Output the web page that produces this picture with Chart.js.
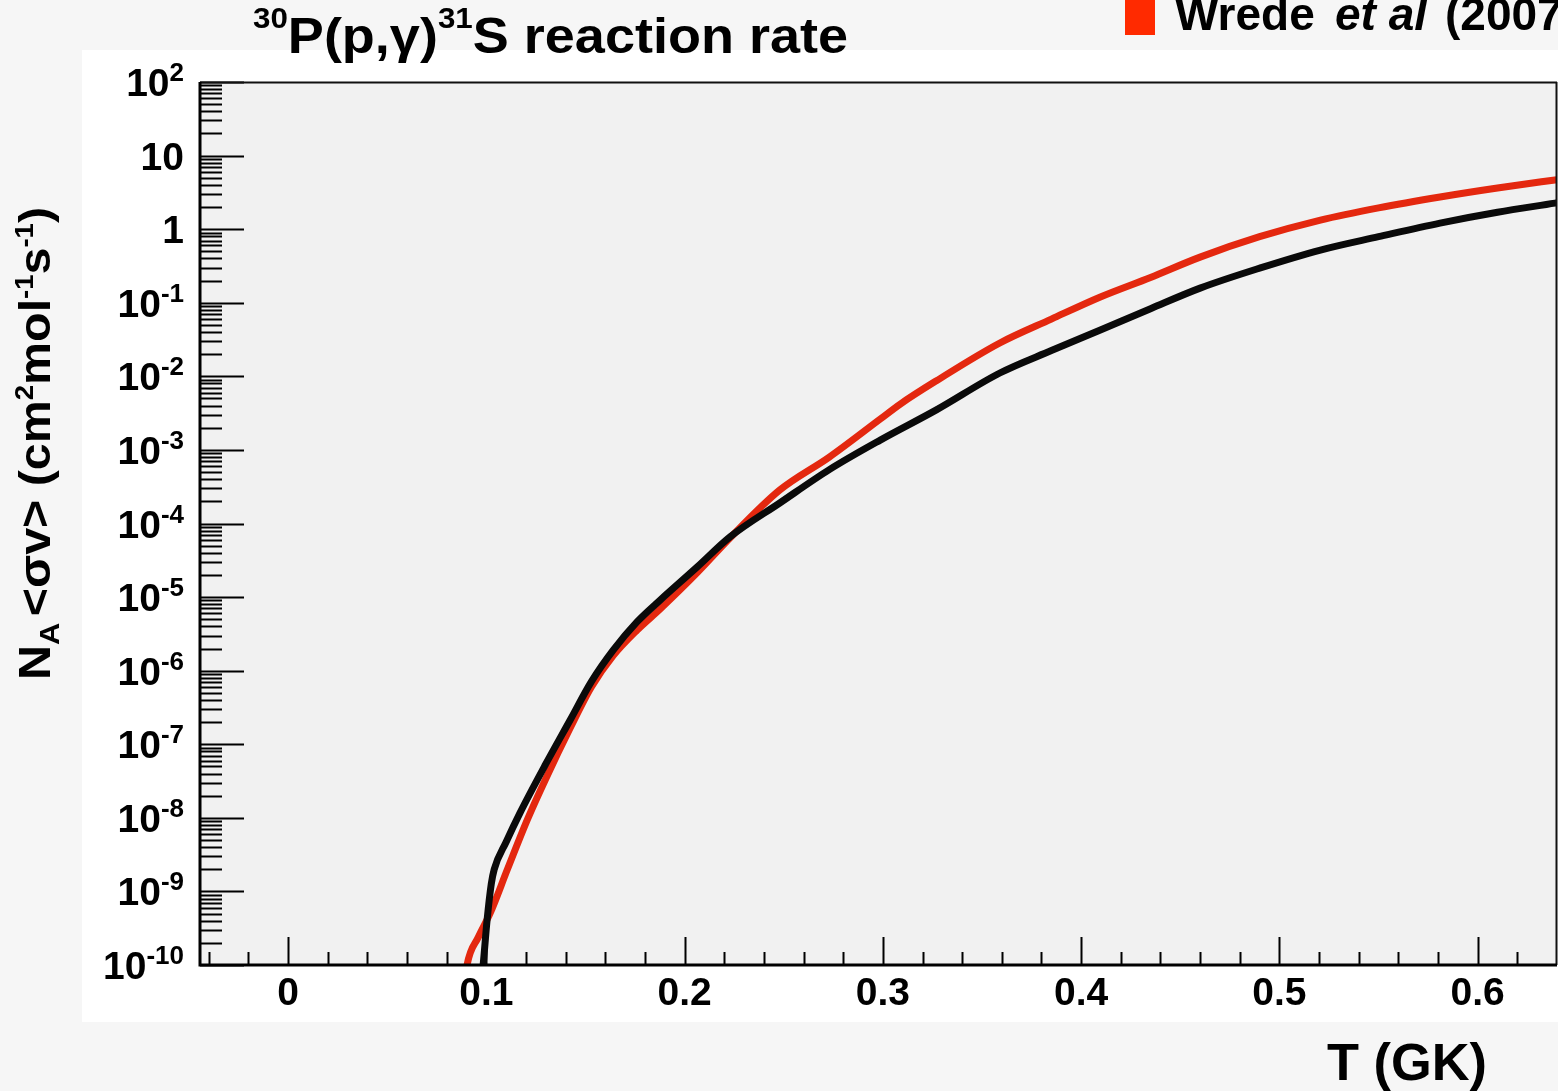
<!DOCTYPE html>
<html>
<head>
<meta charset="utf-8">
<title>30P(p,γ)31S reaction rate</title>
<script src="https://cdn.jsdelivr.net/npm/chart.js@4.4.1/dist/chart.umd.min.js"></script>
<style>
  html, body { margin: 0; padding: 0; background: #f6f6f6; overflow: hidden; }
  canvas { display: block; }
</style>
</head>
<body>
<canvas id="rate" width="1558" height="1091"></canvas>
<script>
// Temperature (GK) and reaction rate N_A<σv> (cm^3 mol^-1 s^-1) for the reference curve (black)
const tempRef = [0.0960, 0.0984, 0.1004, 0.1025, 0.1040, 0.1100, 0.1170, 0.1300, 0.1423, 0.1530,
                 0.1640, 0.1760, 0.1877, 0.2064, 0.2230, 0.2480, 0.2730, 0.2987, 0.3270, 0.3590,
                 0.3850, 0.4100, 0.4350, 0.4600, 0.4900, 0.5207, 0.5500, 0.5810, 0.6100, 0.6390, 0.6450];
const rateRef = [2.5e-11, 1.0e-10, 4.1e-10, 1.26e-9, 2.0e-9, 4.7e-9, 1.17e-8, 5.4e-8, 2.14e-7, 7.1e-7,
                 1.9e-6, 4.6e-6, 9.1e-6, 2.57e-5, 6.6e-5, 1.9e-4, 5.4e-4, 1.36e-3, 3.5e-3, 1.11e-2,
                 2.24e-2, 4.3e-2, 8.3e-2, 0.158, 0.295, 0.52, 0.79, 1.21, 1.70, 2.26, 2.4];

// Wrede et al (2007) rate (red)
const tempWrede = [0.0880, 0.0903, 0.0960, 0.1020, 0.1105, 0.1206, 0.1300, 0.1423, 0.1530, 0.1640,
                   0.1760, 0.1877, 0.2064, 0.2230, 0.2480, 0.2730, 0.2987, 0.3088, 0.3270, 0.3590,
                   0.3850, 0.4097, 0.4350, 0.4600, 0.4900, 0.5207, 0.5500, 0.5810, 0.6100, 0.6390, 0.6450];
const rateWrede = [3.2e-11, 1.0e-10, 2.4e-10, 5.1e-10, 1.95e-9, 9.3e-9, 3.4e-8, 1.66e-7, 6.0e-7, 1.6e-6,
                   3.55e-6, 6.9e-6, 2.15e-5, 6.4e-5, 2.85e-4, 8.0e-4, 2.63e-3, 4.2e-3, 8.7e-3, 2.84e-2,
                   6.0e-2, 0.12, 0.221, 0.417, 0.79, 1.33, 1.95, 2.74, 3.63, 4.66, 4.9];

// Axis ranges and tick labels
const xRange = [-0.0444, 0.640];
const yRange = [1e-10, 1e2];
const xTicks = [0, 0.1, 0.2, 0.3, 0.4, 0.5, 0.6];
const xTickLabels = ['0', '0.1', '0.2', '0.3', '0.4', '0.5', '0.6'];
const yTicks = [1e2, 1e1, 1, 1e-1, 1e-2, 1e-3, 1e-4, 1e-5, 1e-6, 1e-7, 1e-8, 1e-9, 1e-10];
const yTickBase = ['10', '10', '1', '10', '10', '10', '10', '10', '10', '10', '10', '10', '10'];
const yTickExp  = ['2', '', '', '-1', '-2', '-3', '-4', '-5', '-6', '-7', '-8', '-9', '-10'];

const FAMILY = '"Liberation Sans", Arial, Helvetica, sans-serif';
const f = (size, style) => (style || 'bold') + ' ' + size + 'px ' + FAMILY;

// Draw a run of text pieces (with super/subscripts); optional horizontal fit to a width
function drawRich(ctx, segs, x, y, align, fitWidth) {
  let w = 0;
  for (const s of segs) { ctx.font = s.font; w += ctx.measureText(s.text).width + (s.gap || 0); }
  const sx = fitWidth ? fitWidth / w : 1;
  ctx.save();
  let start = x;
  if (align === 'right') start = x - w * sx;
  else if (align === 'center') start = x - w * sx / 2;
  ctx.translate(start, y);
  ctx.scale(sx, 1);
  ctx.textAlign = 'left';
  ctx.textBaseline = 'alphabetic';
  let cx = 0;
  for (const s of segs) {
    ctx.font = s.font;
    ctx.fillStyle = s.color || '#000';
    ctx.fillText(s.text, cx, s.dy || 0);
    cx += ctx.measureText(s.text).width + (s.gap || 0);
  }
  ctx.restore();
}

const decorations = {
  id: 'decorations',
  beforeDraw(chart) {
    const { ctx, chartArea: a } = chart;
    ctx.save();
    ctx.fillStyle = '#f6f6f6';
    ctx.fillRect(0, 0, chart.width, chart.height);
    ctx.fillStyle = '#ffffff';
    ctx.fillRect(82, 50, chart.width - 82, 972);
    ctx.fillStyle = '#f1f1f1';
    ctx.fillRect(a.left, a.top, a.right - a.left, a.bottom - a.top);
    ctx.restore();
  },
  beforeDatasetsDraw(chart) {
    const { ctx, chartArea: a, scales: { x, y } } = chart;
    ctx.save();
    ctx.strokeStyle = '#000';
    ctx.lineWidth = 2;
    ctx.beginPath();
    // y axis: major ticks at decades, minor ticks at 2..9
    for (let e = -10; e <= 2; e++) {
      const py = Math.round(y.getPixelForValue(Math.pow(10, e))) + 0.5;
      ctx.moveTo(a.left, py); ctx.lineTo(a.left + 44, py);
      if (e < 2) {
        for (let k = 2; k <= 9; k++) {
          const pm = Math.round(y.getPixelForValue(k * Math.pow(10, e))) + 0.5;
          ctx.moveTo(a.left, pm); ctx.lineTo(a.left + 22, pm);
        }
      }
    }
    // x axis: major every 0.1, minor every 0.02
    for (let i = -2; i <= 32; i++) {
      const px = Math.round(x.getPixelForValue(i * 0.02)) + 0.5;
      if (px < a.left || px > a.right) continue;
      const len = (i % 5 === 0) ? 28 : 13;
      ctx.moveTo(px, a.bottom); ctx.lineTo(px, a.bottom - len);
    }
    ctx.stroke();
    ctx.restore();
  },
  afterDraw(chart) {
    const { ctx, chartArea: a, scales: { x, y } } = chart;
    ctx.save();
    // frame
    ctx.strokeStyle = '#111';
    ctx.lineWidth = 2;
    ctx.beginPath();
    ctx.moveTo(a.left, a.top + 0.5); ctx.lineTo(a.right, a.top + 0.5);
    ctx.moveTo(a.right - 0.5, a.top); ctx.lineTo(a.right - 0.5, a.bottom);
    ctx.stroke();
    ctx.strokeStyle = '#000';
    ctx.lineWidth = 3;
    ctx.beginPath();
    ctx.moveTo(a.left, a.top); ctx.lineTo(a.left, a.bottom + 1.5);
    ctx.moveTo(a.left - 1.5, a.bottom); ctx.lineTo(a.right, a.bottom);
    ctx.stroke();

    // y tick labels
    yTicks.forEach((v, i) => {
      const py = y.getPixelForValue(v);
      const segs = [{ text: yTickBase[i], font: f(39) }];
      if (yTickExp[i]) segs.push({ text: yTickExp[i], font: f(26), dy: -15 });
      drawRich(ctx, segs, 184, py + 14, 'right');
    });
    // x tick labels
    xTicks.forEach((v, i) => {
      const px = x.getPixelForValue(v);
      drawRich(ctx, [{ text: xTickLabels[i], font: f(39) }], px, 1005, 'center');
    });

    // title
    drawRich(ctx, [
      { text: '30', font: f(29), dy: -25 },
      { text: 'P(p,γ)', font: f(50) },
      { text: '31', font: f(29), dy: -25 },
      { text: 'S reaction rate', font: f(50) }
    ], 253, 53, 'left', 595);

    // x axis title
    drawRich(ctx, [{ text: 'T (GK)', font: f(52) }], 1327, 1080, 'left', 160);

    // y axis title (rotated)
    ctx.save();
    ctx.translate(50, 680);
    ctx.rotate(-Math.PI / 2);
    drawRich(ctx, [
      { text: 'N', font: f(44) },
      { text: 'A', font: f(28), dy: 9, gap: 6 },
      { text: '<σv> (cm', font: f(44) },
      { text: '2', font: f(25), dy: -17 },
      { text: 'mol', font: f(44) },
      { text: '-1', font: f(25), dy: -17 },
      { text: 's', font: f(44) },
      { text: '-1', font: f(25), dy: -17 },
      { text: ')', font: f(44) }
    ], 0, 0, 'left', 473);
    ctx.restore();

    // legend entry
    ctx.fillStyle = '#ff2a00';
    ctx.fillRect(1125, -6, 30, 41);
    drawRich(ctx, [{ text: 'Wrede', font: f(46) }], 1175, 30, 'left');
    drawRich(ctx, [{ text: 'et al', font: f(46, 'italic bold') }], 1335, 30, 'left');
    drawRich(ctx, [{ text: '(2007)', font: f(46) }], 1445, 30, 'left');
    ctx.restore();
  }
};

const toPoints = (xs, ys) => xs.map((t, i) => ({ x: t, y: ys[i] }));

new Chart(document.getElementById('rate'), {
  type: 'scatter',
  data: {
    datasets: [
      {
        label: 'Reference rate',
        data: toPoints(tempRef, rateRef),
        showLine: true,
        borderColor: '#0a0a0a',
        borderWidth: 7,
        pointRadius: 0,
        cubicInterpolationMode: 'monotone'
      },
      {
        label: 'Wrede et al (2007)',
        data: toPoints(tempWrede, rateWrede),
        showLine: true,
        borderColor: '#e4280f',
        borderWidth: 7,
        pointRadius: 0,
        cubicInterpolationMode: 'monotone'
      }
    ]
  },
  options: {
    responsive: false,
    animation: false,
    devicePixelRatio: 1,
    layout: { padding: { left: 200, top: 82, right: 1, bottom: 126 } },
    scales: {
      x: { type: 'linear', min: xRange[0], max: xRange[1], display: false },
      y: { type: 'logarithmic', min: yRange[0], max: yRange[1], display: false }
    },
    plugins: {
      legend: { display: false },
      tooltip: { enabled: false }
    }
  },
  plugins: [decorations]
});
</script>
</body>
</html>
